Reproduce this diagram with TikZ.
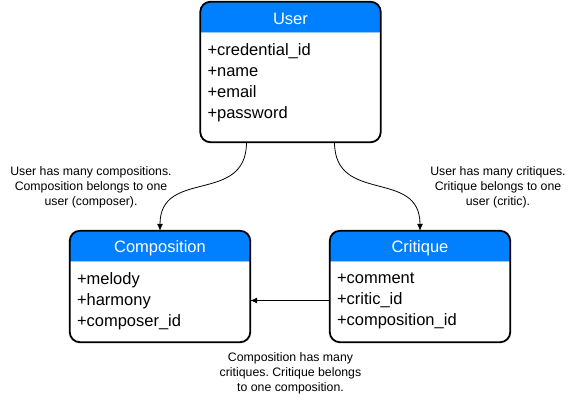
\documentclass[tikz,border=0pt]{standalone}
\usepackage{fontspec}
\setmainfont{Liberation Sans}
\usetikzlibrary{arrows.meta,positioning,calc}
\definecolor{hdrblue}{RGB}{0,128,255}
\definecolor{hdrline}{RGB}{150,200,250}
\frenchspacing
\tikzset{
  entity/.style={minimum width=180pt,inner sep=0pt},
  border/.style={draw=black,line width=1.8pt,rounded corners=10pt},
  title/.style={text=white,font=\fontsize{16.5}{19}\selectfont},
  fields/.style={font=\fontsize{16.5}{21}\selectfont,align=left,inner sep=0pt,anchor=north west},
  note/.style={font=\fontsize{12.3}{15}\selectfont,align=center,inner sep=0pt},
  arr/.style={-{Latex[length=7pt,width=6pt]},line width=0.8pt}
}
\begin{document}
\begin{tikzpicture}[x=1pt,y=-1pt]
  \useasboundingbox (0,0) rectangle (572,405);
  % entity boxes
  \node[entity,minimum height=140pt] (user) at (290.5,72) {};
  \node[entity,minimum height=111pt] (comp) at (160,286.5) {};
  \node[entity,minimum height=111pt] (crit) at (420,286.5) {};
  \foreach \e in {user,comp,crit}{
    \begin{scope}
      \clip[rounded corners=10pt] (\e.north west) rectangle (\e.south east);
      \fill[hdrblue] (\e.north west) rectangle ([yshift=-31pt]\e.north east);
      \draw[hdrline,line width=1pt] ([yshift=-31pt]\e.north west) -- ([yshift=-31pt]\e.north east);
    \end{scope}
    \draw[border] (\e.north west) rectangle (\e.south east);
  }
  % titles and attributes
  \node[title] (usert) at ([yshift=-17.5pt]user.north) {User};
  \node[title] (compt) at ([yshift=-17.5pt]comp.north) {Composition};
  \node[title] (critt) at ([yshift=-17.5pt]crit.north) {Critique};
  \node[fields] (userf) at ([xshift=7pt,yshift=-42pt]user.north west)
    {+credential\_id\\+name\\+email\\+password};
  \node[fields] (compf) at ([xshift=7pt,yshift=-42pt]comp.north west)
    {+melody\\+harmony\\+composer\_id};
  \node[fields] (critf) at ([xshift=7pt,yshift=-42pt]crit.north west)
    {+comment\\+critic\_id\\+composition\_id};
  % relations
  \draw[arr] ([xshift=-44pt]user.south) to[out=-90,in=90,looseness=1.3] (comp.north);
  \draw[arr] ([xshift=44pt]user.south) to[out=-90,in=90,looseness=1.3] (crit.north);
  \draw[arr] ([yshift=-14pt]crit.west) -- ([yshift=-14pt]comp.east);
  % notes
  \node[note] (n1) at (91,187) {User has many compositions.\\Composition belongs to one\\user (composer).};
  \node[note] (n2) at (498,187) {User has many critiques.\\Critique belongs to one\\user (critic).};
  \node[note] (n3) at (290.5,373) {Composition has many\\critiques. Critique belongs\\to one composition.};
\end{tikzpicture}
\end{document}
